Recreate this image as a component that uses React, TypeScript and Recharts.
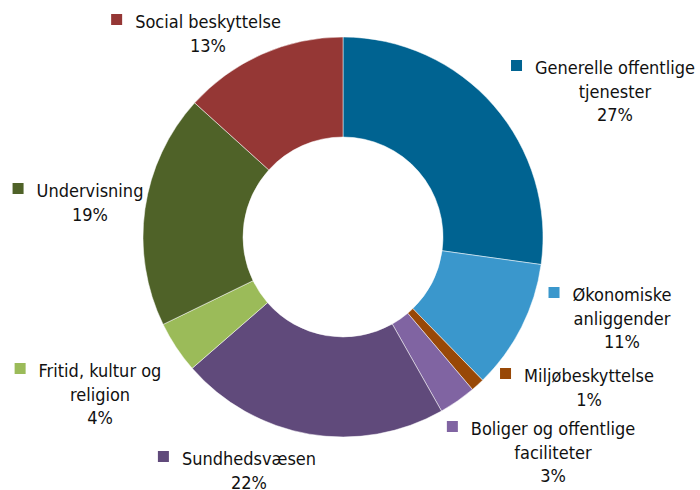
import React from 'react';
import { PieChart, Pie, Cell } from 'recharts';

// Share of spending by function (percent), clockwise from 12 o'clock
const categories = [
  'Generelle offentlige tjenester',
  'Økonomiske anliggender',
  'Miljøbeskyttelse',
  'Boliger og offentlige faciliteter',
  'Sundhedsvæsen',
  'Fritid, kultur og religion',
  'Undervisning',
  'Social beskyttelse',
];
const shares = [27.2, 10.5, 1.1, 3.0, 21.8, 4.2, 18.9, 13.3];

// how each label wraps in the reference
const labelLines = [
  ['Generelle offentlige', 'tjenester'],
  ['Økonomiske', 'anliggender'],
  ['Miljøbeskyttelse'],
  ['Boliger og offentlige', 'faciliteter'],
  ['Sundhedsvæsen'],
  ['Fritid, kultur og', 'religion'],
  ['Undervisning'],
  ['Social beskyttelse'],
];

const COLORS = ['#006391', '#3A97CC', '#984807', '#8064A2', '#604A7B', '#9BBB59', '#4F6228', '#953735'];

// label block placement: text centre x, first baseline y
const LABEL_POS = [
  { x: 615, y: 74 },
  { x: 622, y: 301 },
  { x: 589, y: 382 },
  { x: 553, y: 435 },
  { x: 249, y: 465 },
  { x: 100, y: 377 },
  { x: 90, y: 197 },
  { x: 208, y: 28 },
];

const FONT = '"DejaVu Sans Condensed", "DejaVu Sans", sans-serif';
const FONT_SIZE = 18;
const LINE_H = 23.5;

const data = categories.map((name, i) => ({ name, value: shares[i] }));

let ctx: CanvasRenderingContext2D | null = null;
function textWidth(s: string): number {
  if (!ctx) ctx = document.createElement('canvas').getContext('2d');
  if (!ctx) return s.length * 8;
  ctx.font = `${FONT_SIZE}px "DejaVu Sans Condensed", "DejaVu Sans", sans-serif`;
  return ctx.measureText(s).width;
}

function renderLabel(props: any) {
  const i = props.index as number;
  const pos = LABEL_POS[i];
  const lines = [...labelLines[i], `${Math.round(shares[i])}%`];
  const w = textWidth(lines[0]);
  const left = pos.x - w / 2;
  return (
    <g key={`lbl-${i}`}>
      <rect x={left - 24} y={pos.y - 14} width={11} height={11} fill={COLORS[i]} />
      {lines.map((t, k) => (
        <text
          key={k}
          x={pos.x}
          y={pos.y + k * LINE_H}
          textAnchor="middle"
          fontSize={FONT_SIZE}
          fontFamily={FONT}
          style={{ fontStretch: 'condensed' }}
          fill="#111"
        >
          {t}
        </text>
      ))}
    </g>
  );
}

export default function App() {
  return (
    <div style={{ position: 'absolute', left: 0, top: 0, width: 700, height: 490, background: '#fff' }}>
      <PieChart width={700} height={490} margin={{ top: 0, right: 0, bottom: 0, left: 0 }}>
        <Pie
          data={data}
          dataKey="value"
          nameKey="name"
          cx={343}
          cy={237}
          innerRadius={100}
          outerRadius={200}
          startAngle={90}
          endAngle={-270}
          stroke="#ffffff"
          strokeWidth={0.5}
          label={renderLabel}
          labelLine={false}
          isAnimationActive={false}
        >
          {data.map((d, i) => (
            <Cell key={d.name} fill={COLORS[i]} />
          ))}
        </Pie>
      </PieChart>
    </div>
  );
}
